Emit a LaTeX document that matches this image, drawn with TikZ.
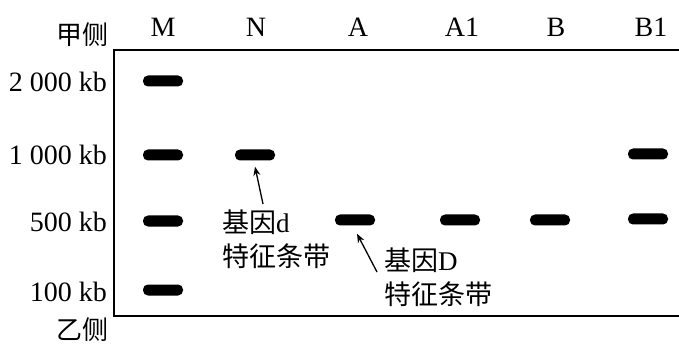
\documentclass[tikz,border=0pt]{standalone}
\usepackage{fontspec}
\setmainfont{Liberation Serif}
\newfontfamily\cjk{Noto Sans CJK SC}
\usetikzlibrary{arrows.meta}
\begin{document}
\begin{tikzpicture}[x=1pt,y=-1pt,
  band/.style={fill=black,rounded corners=5pt,minimum width=40pt,minimum height=11pt,inner sep=0pt},
  lane/.style={font=\fontsize{28}{32}\selectfont,inner sep=0pt},
  size/.style={font=\fontsize{28}{32}\selectfont,anchor=east,inner sep=0pt},
  side/.style={font=\fontsize{26}{30}\selectfont\cjk,anchor=east,inner sep=0pt},
  note/.style={font=\fontsize{27}{34}\selectfont,align=left,anchor=north west,inner sep=0pt},
  pointer/.style={line width=1.3pt,-{Stealth[length=9pt,width=7pt]}}]
\useasboundingbox (0,0) rectangle (679,347);
% gel frame
\coordinate (tr) at (679,50);
\coordinate (br) at (679,316);
\draw[line width=1.8pt] (tr) -- (114,50) -- (114,316) -- (br);
% lane labels
\node[lane] (lM) at (163,27) {M};
\node[lane] (lN) at (256,27) {N};
\node[lane] (lA) at (358,27) {A};
\node[lane] (lA1) at (462,27) {A1};
\node[lane] (lB) at (556,27) {B};
\node[lane] (lB1) at (651,27) {B1};
% side labels
\node[side] (jia) at (109,35) {甲侧};
\node[side] (yi) at (109,330) {乙侧};
\node[size] (s2000) at (107,82) {2 000 kb};
\node[size] (s1000) at (107,155) {1 000 kb};
\node[size] (s500) at (107,222) {500 kb};
\node[size] (s100) at (107,292) {100 kb};
% bands
\node[band] (M1) at (163,81) {};
\node[band] (M2) at (163,155) {};
\node[band] (M3) at (163,221) {};
\node[band] (M4) at (163,290) {};
\node[band] (N1) at (255,155) {};
\node[band] (A1b) at (355,220) {};
\node[band] (A11) at (460,220) {};
\node[band] (B1b) at (550,220) {};
\node[band] (B11) at (648,154) {};
\node[band] (B12) at (648,219) {};
% annotations
\node[note] (nd) at (222,210) {{\cjk 基因}d\\{\cjk 特征条带}};
\node[note] (nD) at (384,248) {{\cjk 基因}D\\{\cjk 特征条带}};
\coordinate (dtail) at (263,204);
\coordinate (Dtail) at (377,272);
\draw[pointer] (dtail) -- ([yshift=-6pt]N1.south);
\draw[pointer] (Dtail) -- ([xshift=2pt,yshift=-8pt]A1b.south);
\end{tikzpicture}
\end{document}
